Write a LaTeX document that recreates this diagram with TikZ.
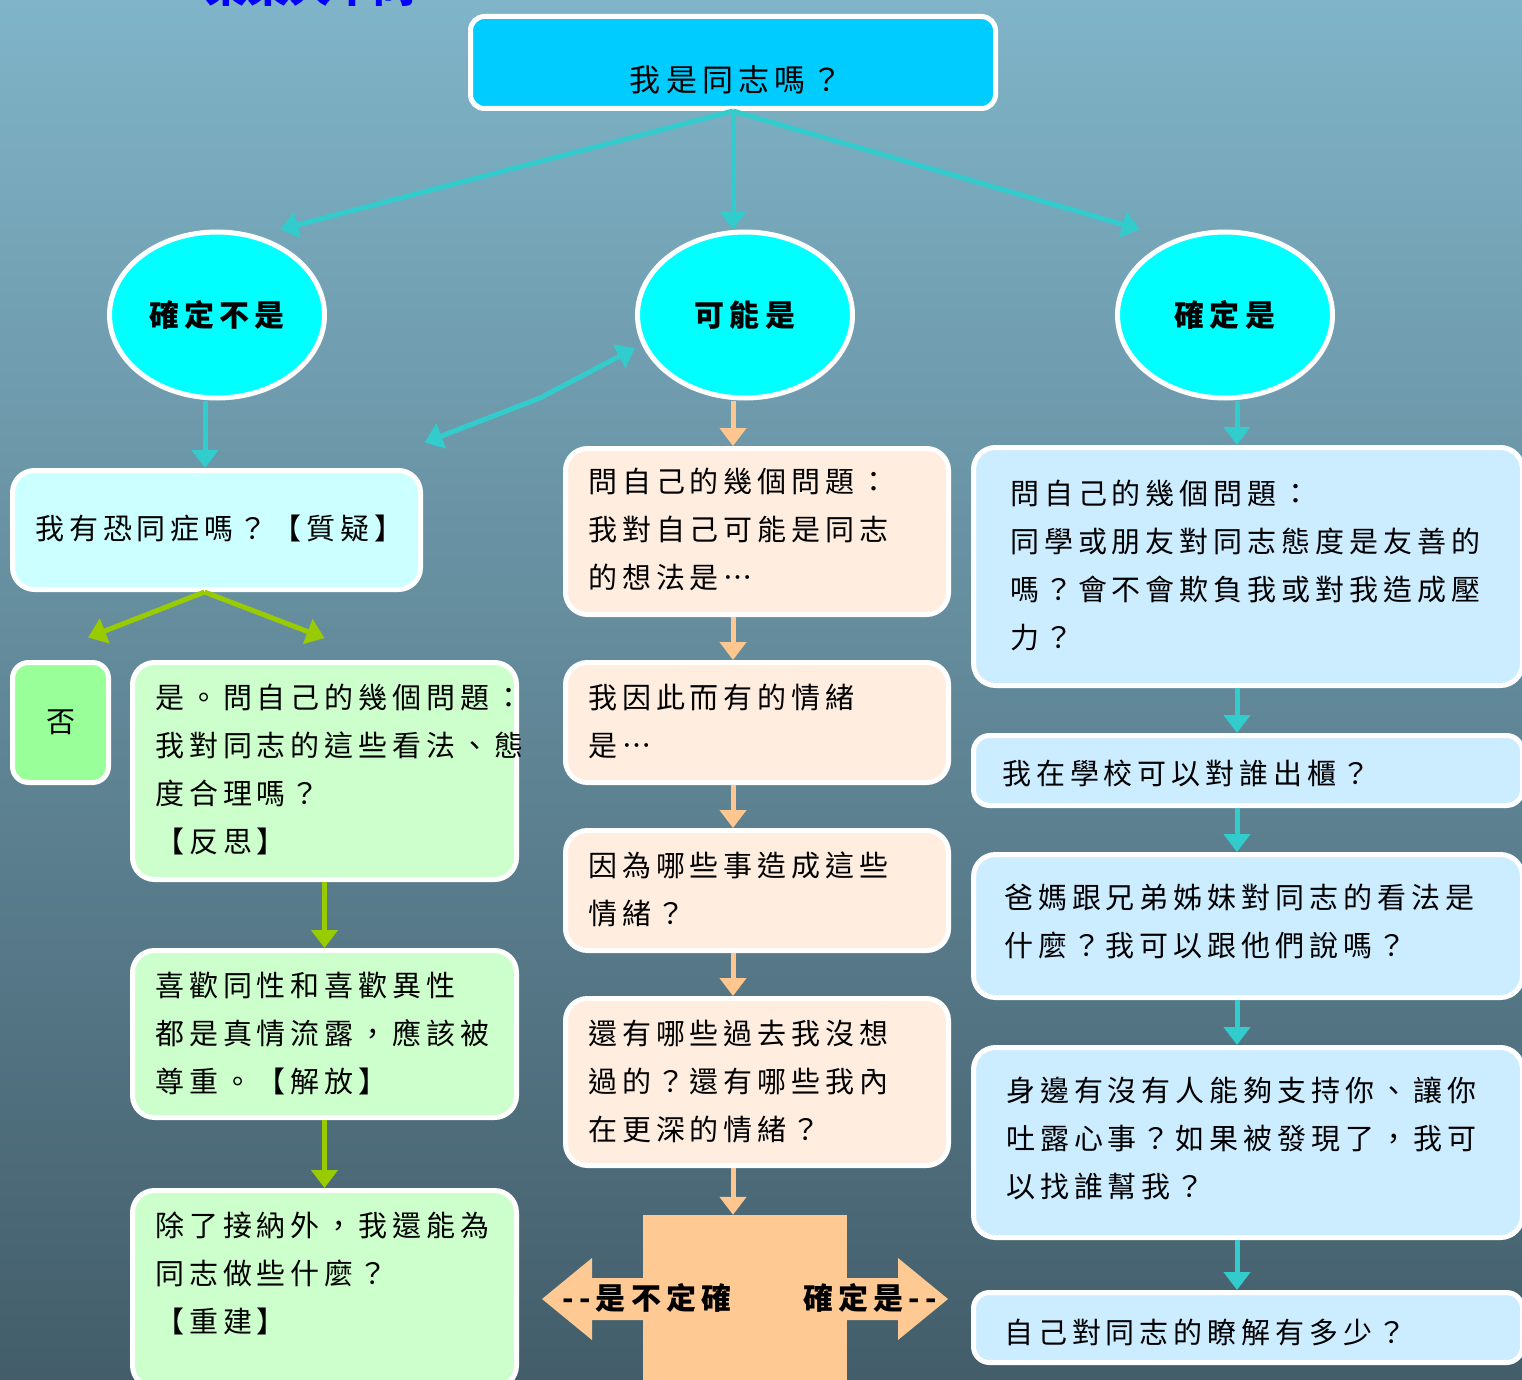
\documentclass[tikz,border=0pt]{standalone}
\usepackage{fontspec}
\newfontfamily\cjk[LetterSpace=17,Script=CJK,Language=Chinese Traditional]{Noto Sans CJK TC}
\newfontfamily\cjkn{Noto Sans CJK TC}
\usetikzlibrary{arrows.meta,shapes.geometric,calc}
\definecolor{bgtop}{HTML}{80B4C8}
\definecolor{bgmid}{HTML}{618A9A}
\definecolor{bgbot}{HTML}{435D6A}
\definecolor{topc}{HTML}{00CCFF}
\definecolor{cyanE}{HTML}{00FFFF}
\definecolor{lonec}{HTML}{CCFFFF}
\definecolor{noc}{HTML}{99FF99}
\definecolor{gc}{HTML}{CCFFCC}
\definecolor{mc}{HTML}{FFEEE0}
\definecolor{rc}{HTML}{CCECFF}
\definecolor{tealA}{HTML}{33CCCC}
\definecolor{greenA}{HTML}{99CC00}
\definecolor{orA}{HTML}{FFC78F}
\definecolor{orB}{HTML}{FFC993}
\tikzset{
  bx/.style={draw=white, line width=5pt, rounded corners=22pt, inner sep=0pt},
  ell/.style={ellipse, draw=white, line width=5pt, fill=cyanE, inner sep=0pt,
    minimum width=215pt, minimum height=166pt, font=\cjk\bfseries\fontsize{30}{36}\selectfont},
  txt/.style={anchor=base west, align=left, inner sep=0pt, text=black,
    font=\cjk\fontsize{29}{48}\selectfont},
  lab/.style={inner sep=0pt, text=black, font=\cjk\bfseries\fontsize{30}{36}\selectfont},
  tipT/.style={-{Triangle[width=26pt,length=18pt]}},
  tl/.style={line width=5pt, draw=tealA, tipT},
  gl/.style={line width=5pt, draw=greenA, tipT},
  ol/.style={line width=5pt, draw=orA, tipT},
}
\begin{document}
\begin{tikzpicture}[x=1pt,y=-1pt]
\useasboundingbox (0,0) rectangle (1522,1380);
\clip (0,0) rectangle (1522,1380);
\shade[top color=bgtop, middle color=bgmid, bottom color=bgbot] (0,0) rectangle (1522,1380);

% partially visible title
\node[anchor=base west, inner sep=0pt, text=blue, font=\cjkn\bfseries\fontsize{42}{42}\selectfont] (title) at (205,3) {東東大本同};

% top
\node[bx, fill=topc, rounded corners=14pt, minimum width=525pt, minimum height=92pt] (top) at (733,62.5) {};
\node[inner sep=0pt, font=\cjk\fontsize{31}{36}\selectfont] (toptxt) at (736,80) {我是同志嗎？};

% ellipses
\node[ell] (E1) at (217,315) {確定不是};
\node[ell] (E2) at (745,315) {可能是};
\node[ell] (E3) at (1225,315) {確定是};

% left column
\node[bx, fill=lonec, minimum width=408pt, minimum height=119pt] (L1) at (216.5,530) {};
\node[txt] (L1t) at (35,539) {我有恐同症嗎？【質疑】};
\node[bx, fill=noc, rounded corners=16pt, minimum width=96pt, minimum height=120pt, font=\cjkn\fontsize{29}{36}\selectfont] (No) at (60.5,722.5) {否};
\node[bx, fill=gc, minimum width=384pt, minimum height=217pt] (Yes) at (324.5,771) {};
\node[txt] (Yest) at (155,852) {是。問自己的幾個問題：\\我對同志的這些看法、態\\度合理嗎？\\【反思】};
\node[bx, fill=gc, minimum width=384pt, minimum height=167pt] (L3) at (324.5,1034) {};
\node[txt] (L3t) at (155,1092) {喜歡同性和喜歡異性\\都是真情流露，應該被\\尊重。【解放】};
\node[bx, fill=gc, minimum width=384pt, minimum height=197pt] (L4) at (324.5,1289) {};
\node[txt] (L4t) at (155,1332) {除了接納外，我還能為\\同志做些什麼？\\【重建】};

% middle column
\node[bx, fill=mc, minimum width=383pt, minimum height=166pt] (M1) at (757,531.5) {};
\node[txt] (M1t) at (588,588) {問自己的幾個問題：\\我對自己可能是同志\\的想法是…};
\node[bx, fill=mc, minimum width=383pt, minimum height=120pt] (M2) at (757,722.5) {};
\node[txt] (M2t) at (588,756) {我因此而有的情緒\\是…};
\node[bx, fill=mc, minimum width=383pt, minimum height=120pt] (M3) at (757,890.5) {};
\node[txt] (M3t) at (588,924) {因為哪些事造成這些\\情緒？};
\node[bx, fill=mc, minimum width=383pt, minimum height=167pt] (M4) at (757,1082) {};
\node[txt] (M4t) at (588,1140) {還有哪些過去我沒想\\過的？還有哪些我內\\在更深的情緒？};

% bottom double arrow shape
\node[fill=orB, inner sep=0pt, minimum width=204pt, minimum height=172pt] (BR) at (745,1301) {};
\fill[orB] (643,1278) -- (592,1278) -- (592,1258) -- (542,1299) -- (592,1340) -- (592,1320) -- (643,1320) -- cycle;
\fill[orB] (847,1278) -- (898,1278) -- (898,1258) -- (948,1299) -- (898,1340) -- (898,1320) -- (847,1320) -- cycle;
\node[lab] (BRl) at (647,1298) {-{}-是不定確};
\node[lab] (BRr) at (870,1298) {確定是-{}-};

% right column
\node[bx, fill=rc, minimum width=549pt, minimum height=238pt] (R1) at (1248,566.5) {};
\node[txt] (R1t) at (1010,648) {問自己的幾個問題：\\同學或朋友對同志態度是友善的\\嗎？會不會欺負我或對我造成壓\\力？};
\node[bx, fill=rc, rounded corners=16pt, minimum width=549pt, minimum height=70pt] (R2) at (1248,770.5) {};
\node[txt] (R2t) at (1002,784) {我在學校可以對誰出櫃？};
\node[bx, fill=rc, minimum width=549pt, minimum height=143pt] (R3) at (1248,926) {};
\node[txt] (R3t) at (1004,956) {爸媽跟兄弟姊妹對同志的看法是\\什麼？我可以跟他們說嗎？};
\node[bx, fill=rc, minimum width=549pt, minimum height=190pt] (R4) at (1248,1142.5) {};
\node[txt] (R4t) at (1006,1197) {身邊有沒有人能夠支持你、讓你\\吐露心事？如果被發現了，我可\\以找誰幫我？};
\node[bx, fill=rc, rounded corners=16pt, minimum width=549pt, minimum height=70pt] (R5) at (1248,1327.5) {};
\node[txt] (R5t) at (1004,1343) {自己對同志的瞭解有多少？};

% connectors from top
\draw[tl] (top.south) -- ([xshift=63pt]E1.north);
\draw[tl] (top.south) -- (top.south |- E2.north);
\draw[tl] (top.south) -- ([xshift=-85pt]E3.north);

% left column connectors
\draw[tl] ([xshift=-12pt]E1.south) -- ([xshift=-12pt]E1.south |- L1.north);
\coordinate (bend) at (540,398);
\draw[line width=5pt, draw=tealA, {Triangle[width=26pt,length=18pt]}-{Triangle[width=26pt,length=18pt]}]
  ([xshift=1.5pt,yshift=25.5pt]L1.north east) -- (bend) -- ([yshift=-33pt]E2.west);
\draw[gl] ([xshift=-12pt]L1.south) -- ([xshift=27.5pt,yshift=22.5pt]No.north);
\draw[gl] ([xshift=-12pt]L1.south) -- ([yshift=22pt]Yes.north);
\draw[gl] (Yes.south) -- (L3.north);
\draw[gl] (L3.south) -- (L4.north);

% middle connectors
\coordinate (mx) at (733,0);
\draw[ol] (mx |- E2.south) -- (mx |- M1.north);
\draw[ol] (mx |- M1.south) -- (mx |- M2.north);
\draw[ol] (mx |- M2.south) -- (mx |- M3.north);
\draw[ol] (mx |- M3.south) -- (mx |- M4.north);
\draw[ol] (mx |- M4.south) -- (mx |- BR.north);

% right connectors
\coordinate (rx) at (1237,0);
\draw[tl] (rx |- E3.south) -- (rx |- R1.north);
\draw[tl] (rx |- R1.south) -- (rx |- R2.north);
\draw[tl] (rx |- R2.south) -- (rx |- R3.north);
\draw[tl] (rx |- R3.south) -- (rx |- R4.north);
\draw[tl] (rx |- R4.south) -- (rx |- R5.north);
\end{tikzpicture}
\end{document}
